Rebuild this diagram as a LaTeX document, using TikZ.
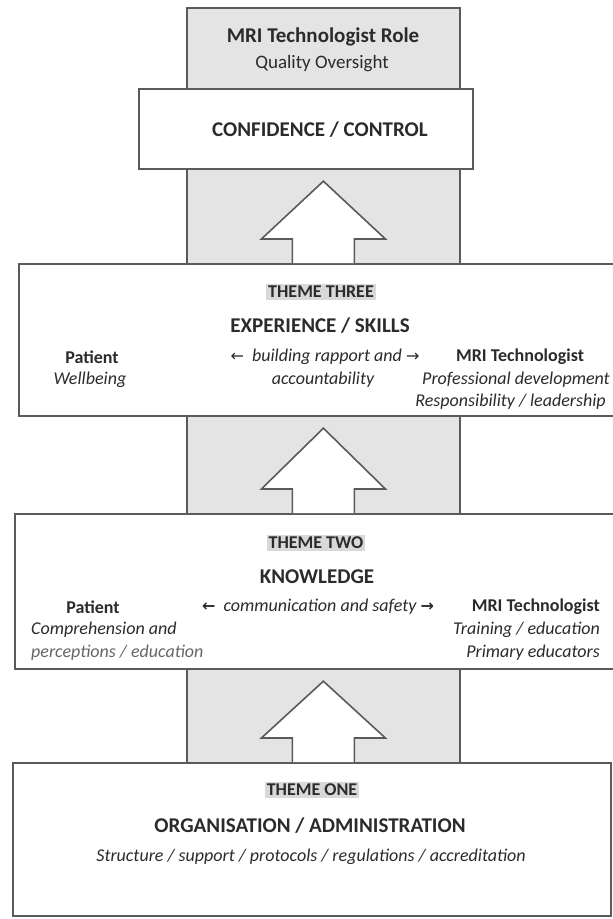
\documentclass[tikz,border=0pt]{standalone}
\usepackage{fontspec}
\setmainfont{Carlito}
\newfontfamily\arrowfont{DejaVu Sans}
\definecolor{ink}{HTML}{2B2B2B}
\definecolor{edge}{HTML}{5A5A5A}
\definecolor{colfill}{HTML}{E4E4E4}
\definecolor{hl}{HTML}{D9D9D9}
\definecolor{faint}{HTML}{666666}
\begin{document}
\begin{tikzpicture}[x=1pt,y=-1pt,
  box/.style={draw=edge, line width=2.2pt, fill=white, inner sep=0pt, anchor=north west},
  greybox/.style={draw=edge, line width=1.8pt, fill=colfill, inner sep=0pt, anchor=north west},
  blockarrow/.style={draw=edge, line width=1.6pt, fill=white, line join=miter},
  body/.style={text=ink, inner sep=0pt, font=\fontsize{18}{21}\selectfont},
  bodyb/.style={body, font=\fontsize{18}{21}\selectfont\bfseries},
  bodyi/.style={body, font=\fontsize{18}{21}\selectfont\itshape},
  head/.style={body, font=\fontsize{21}{24}\selectfont\bfseries},
  theme/.style={body, font=\fontsize{18}{21}\selectfont\bfseries, fill=hl, inner sep=2pt}
]
\useasboundingbox (0,0) rectangle (613,919);

% grey column
\node[greybox, minimum width=273pt, minimum height=763pt] (col) at (186,7) {};
% boxes
\node[box, minimum width=334pt, minimum height=80pt] (conf) at (138,88) {};
\node[box, minimum width=610pt, minimum height=152pt] (t3) at (18,263) {};
\node[box, minimum width=610pt, minimum height=155pt] (t2) at (14,513) {};
\node[box, minimum width=598pt, minimum height=153pt] (t1) at (12,762) {};

% block arrows
\newcommand\blockup[2]{%
  \draw[blockarrow]
    ([xshift=-31pt]col.center |- #2.north) --
    ([xshift=-31pt,yshift=24pt]col.center |- #2.north) --
    ([xshift=-62pt,yshift=24pt]col.center |- #2.north) --
    ([yshift=-11pt]col.center |- #1.south) --
    ([xshift=62pt,yshift=24pt]col.center |- #2.north) --
    ([xshift=31pt,yshift=24pt]col.center |- #2.north) --
    ([xshift=31pt]col.center |- #2.north);}
\blockup{conf}{t3}
\blockup{t3}{t2}
\blockup{t2}{t1}

% top texts
\node[head] (role) at (323,37) {MRI Technologist Role};
\node[body, font=\fontsize{19}{22}\selectfont] (qo) at (322,64) {Quality Oversight};
\node[head] (cc) at (320,130) {CONFIDENCE / CONTROL};

% theme three
\node[theme] (t3a) at (321,292) {THEME THREE};
\node[head] (t3b) at (320,326) {EXPERIENCE / SKILLS};
\node[bodyb] (t3p) at (92,357) {Patient};
\node[bodyi] (t3w) at (90,380) {Wellbeing};
\node[bodyi] (t3m1) at (325,357) {{\arrowfont\fontsize{16}{18}\selectfont\upshape ←}\ \ building rapport and {\arrowfont\fontsize{16}{18}\selectfont\upshape →}};
\node[bodyi] (t3m2) at (323,380) {accountability};
\node[bodyb] (t3r1) at (520,357) {MRI Technologist};
\node[bodyi] (t3r2) at (516,380) {Professional development};
\node[bodyi, anchor=east] (t3r3) at (606,402) {Responsibility / leadership};

% theme two
\node[theme] (t2a) at (316,543) {THEME TWO};
\node[head] (t2b) at (317,577) {KNOWLEDGE};
\node[bodyb] (t2p) at (93,607) {Patient};
\node[bodyi, anchor=west] (t2l1) at (31,630) {Comprehension and};
\node[bodyi, anchor=west, text=faint] (t2l2) at (31,653) {perceptions / education};
\node[bodyi] (t2m) at (318,607) {{\arrowfont\fontsize{16}{18}\selectfont\upshape\bfseries ←}\ \ communication and safety {\arrowfont\fontsize{16}{18}\selectfont\upshape\bfseries →}};
\node[bodyb, anchor=east] (t2r1) at (600,607) {MRI Technologist};
\node[bodyi, anchor=east] (t2r2) at (600,630) {Training / education};
\node[bodyi, anchor=east] (t2r3) at (600,653) {Primary educators};

% theme one
\node[theme] (t1a) at (312,790) {THEME ONE};
\node[head] (t1b) at (310,826) {ORGANISATION / ADMINISTRATION};
\node[bodyi] (t1c) at (311,857) {Structure / support / protocols / regulations / accreditation};
\end{tikzpicture}
\end{document}
